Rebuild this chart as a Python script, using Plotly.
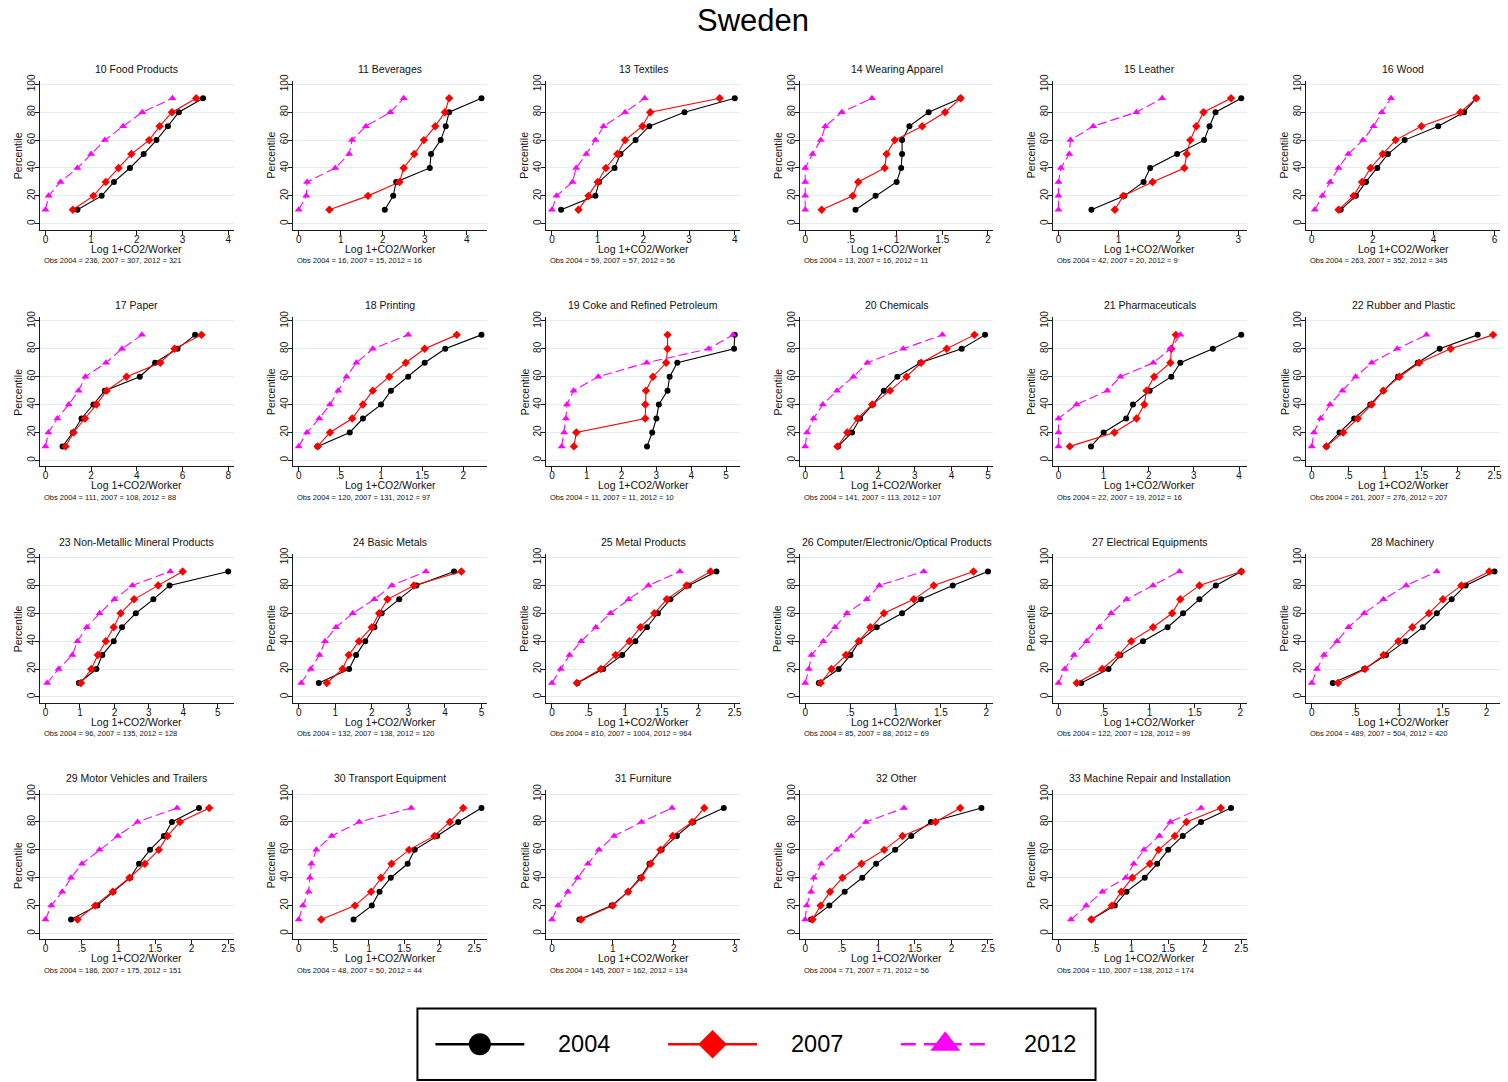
import plotly.graph_objects as go

W, H = 1508, 1082
FONT = "Arial, Liberation Sans, Helvetica, sans-serif"

percentiles = [10, 20, 30, 40, 50, 60, 70, 80, 90]

industries = [
    "10 Food Products", "11 Beverages", "13 Textiles", "14 Wearing Apparel",
    "15 Leather", "16 Wood", "17 Paper", "18 Printing",
    "19 Coke and Refined Petroleum", "20 Chemicals", "21 Pharmaceuticals",
    "22 Rubber and Plastic", "23 Non-Metallic Mineral Products", "24 Basic Metals",
    "25 Metal Products", "26 Computer/Electronic/Optical Products",
    "27 Electrical Equipments", "28 Machinery", "29 Motor Vehicles and Trailers",
    "30 Transport Equipment", "31 Furniture", "32 Other",
    "33 Machine Repair and Installation",
]

obs2004 = [236, 16, 59, 13, 42, 263, 111, 120, 11, 141, 22, 261, 96, 132, 810, 85, 122, 489, 186, 48, 145, 71, 110]
obs2007 = [307, 15, 57, 16, 20, 352, 108, 131, 11, 113, 19, 276, 135, 138, 1004, 88, 128, 504, 175, 50, 162, 71, 138]
obs2012 = [321, 16, 56, 11, 9, 345, 88, 97, 10, 107, 16, 207, 128, 120, 964, 69, 99, 420, 151, 44, 134, 56, 174]

# x-axis label spacing and last labelled value per industry
tick_step = [1, 1, 1, .5, 1, 2, 2, .5, 1, 1, 1, .5, 1, 1, .5, .5, .5, .5, .5, .5, 1, .5, .5]
tick_max = [4, 4, 4, 2, 3, 6, 8, 2, 5, 5, 4, 2.5, 5, 5, 2.5, 2, 2, 2, 2.5, 2.5, 3, 2.5, 2.5]

# Log(1 + CO2 per worker) at the 10th..90th percentiles
co2_2004 = [
    [0.70, 1.23, 1.50, 1.85, 2.15, 2.43, 2.68, 2.92, 3.45],
    [2.05, 2.25, 2.32, 3.12, 3.15, 3.38, 3.50, 3.58, 4.35],
    [0.20, 0.95, 1.03, 1.37, 1.50, 1.83, 2.13, 2.90, 4.00],
    [0.55, 0.77, 1.00, 1.05, 1.06, 1.06, 1.14, 1.35, 1.70],
    [0.55, 1.10, 1.42, 1.53, 1.98, 2.43, 2.52, 2.62, 3.05],
    [0.95, 1.45, 1.78, 2.15, 2.50, 3.05, 4.15, 5.00, 5.40],
    [0.75, 1.20, 1.58, 2.10, 2.60, 4.13, 4.80, 5.78, 6.55],
    [0.23, 0.62, 0.78, 1.00, 1.12, 1.33, 1.53, 1.78, 2.22],
    [2.73, 2.88, 3.00, 3.07, 3.32, 3.38, 3.60, 5.23, 5.25],
    [0.90, 1.28, 1.50, 1.85, 2.15, 2.52, 3.15, 4.28, 4.92],
    [0.72, 1.00, 1.50, 1.65, 2.02, 2.50, 2.70, 3.42, 4.05],
    [0.20, 0.38, 0.58, 0.80, 0.98, 1.18, 1.45, 1.75, 2.27],
    [0.97, 1.48, 1.65, 1.98, 2.22, 2.62, 3.13, 3.60, 5.30],
    [0.55, 1.38, 1.57, 1.82, 2.07, 2.27, 2.75, 3.22, 4.25],
    [0.35, 0.70, 0.96, 1.14, 1.30, 1.45, 1.62, 1.87, 2.25],
    [0.15, 0.37, 0.50, 0.60, 0.79, 1.07, 1.28, 1.63, 2.02],
    [0.25, 0.55, 0.68, 0.93, 1.20, 1.37, 1.55, 1.73, 2.01],
    [0.24, 0.60, 0.85, 1.07, 1.27, 1.43, 1.60, 1.76, 2.09],
    [0.35, 0.71, 0.93, 1.16, 1.28, 1.43, 1.62, 1.73, 2.10],
    [0.78, 1.04, 1.15, 1.31, 1.55, 1.65, 1.97, 2.27, 2.60],
    [0.45, 0.98, 1.25, 1.45, 1.60, 1.80, 2.05, 2.32, 2.82],
    [0.08, 0.33, 0.54, 0.78, 0.97, 1.23, 1.45, 1.72, 2.41],
    [0.45, 0.77, 0.93, 1.18, 1.35, 1.50, 1.70, 1.95, 2.36],
]

co2_2007 = [
    [0.60, 1.05, 1.32, 1.60, 1.88, 2.27, 2.50, 2.77, 3.30],
    [0.73, 1.65, 2.40, 2.50, 2.75, 2.98, 3.25, 3.48, 3.58],
    [0.58, 0.80, 1.00, 1.18, 1.43, 1.60, 1.98, 2.15, 3.67],
    [0.18, 0.52, 0.58, 0.87, 0.89, 0.98, 1.28, 1.53, 1.70],
    [0.94, 1.08, 1.57, 2.10, 2.14, 2.20, 2.30, 2.42, 2.88],
    [0.88, 1.37, 1.65, 1.93, 2.33, 2.75, 3.60, 4.88, 5.40],
    [0.88, 1.23, 1.73, 2.23, 2.68, 3.55, 5.03, 5.65, 6.83],
    [0.23, 0.38, 0.65, 0.78, 0.90, 1.10, 1.30, 1.53, 1.92],
    [0.63, 0.70, 2.68, 2.68, 2.70, 2.90, 3.28, 3.32, 3.32],
    [0.88, 1.15, 1.43, 1.83, 2.32, 2.77, 3.17, 3.87, 4.63],
    [0.25, 1.24, 1.73, 1.90, 1.95, 2.12, 2.48, 2.50, 2.60],
    [0.20, 0.43, 0.63, 0.82, 0.98, 1.20, 1.47, 1.90, 2.48],
    [1.03, 1.33, 1.52, 1.75, 1.98, 2.18, 2.57, 3.27, 3.98],
    [0.77, 1.20, 1.37, 1.65, 2.00, 2.20, 2.43, 3.15, 4.45],
    [0.34, 0.67, 0.87, 1.06, 1.21, 1.40, 1.57, 1.84, 2.17],
    [0.17, 0.29, 0.45, 0.59, 0.72, 0.87, 1.20, 1.42, 1.86],
    [0.20, 0.48, 0.66, 0.80, 1.04, 1.25, 1.34, 1.55, 2.01],
    [0.30, 0.61, 0.82, 0.99, 1.15, 1.34, 1.50, 1.71, 2.03],
    [0.44, 0.68, 0.92, 1.15, 1.36, 1.55, 1.67, 1.84, 2.24],
    [0.32, 0.80, 1.03, 1.17, 1.32, 1.57, 1.93, 2.15, 2.34],
    [0.48, 1.00, 1.25, 1.47, 1.62, 1.78, 1.98, 2.30, 2.50],
    [0.10, 0.21, 0.34, 0.51, 0.77, 1.08, 1.33, 1.78, 2.12],
    [0.45, 0.73, 0.86, 1.01, 1.25, 1.37, 1.59, 1.75, 2.22],
]

co2_2012 = [
    [0.00, 0.07, 0.33, 0.70, 1.00, 1.30, 1.70, 2.12, 2.78],
    [0.00, 0.18, 0.20, 0.87, 1.20, 1.27, 1.60, 2.18, 2.50],
    [0.00, 0.10, 0.45, 0.53, 0.75, 0.95, 1.13, 1.60, 2.03],
    [0.00, 0.00, 0.00, 0.00, 0.08, 0.17, 0.22, 0.40, 0.73],
    [0.00, 0.00, 0.00, 0.04, 0.18, 0.20, 0.58, 1.30, 1.73],
    [0.10, 0.35, 0.60, 0.88, 1.20, 1.68, 2.03, 2.30, 2.60],
    [0.00, 0.13, 0.52, 1.02, 1.45, 1.75, 2.65, 3.35, 4.22],
    [0.00, 0.10, 0.25, 0.38, 0.48, 0.58, 0.70, 0.90, 1.33],
    [0.28, 0.35, 0.40, 0.43, 0.62, 1.33, 2.72, 4.50, 5.20],
    [0.00, 0.05, 0.23, 0.48, 0.87, 1.32, 1.70, 2.68, 3.75],
    [0.00, 0.00, 0.00, 0.40, 1.08, 1.37, 2.10, 2.48, 2.70],
    [0.00, 0.03, 0.12, 0.25, 0.42, 0.60, 0.82, 1.17, 1.57],
    [0.05, 0.38, 0.78, 0.93, 1.20, 1.57, 2.00, 2.52, 3.62],
    [0.07, 0.33, 0.57, 0.72, 1.02, 1.48, 2.07, 2.55, 3.48],
    [0.00, 0.12, 0.24, 0.40, 0.60, 0.80, 1.05, 1.32, 1.75],
    [0.00, 0.04, 0.07, 0.20, 0.33, 0.46, 0.68, 0.82, 1.31],
    [0.00, 0.07, 0.17, 0.31, 0.45, 0.58, 0.75, 1.04, 1.33],
    [0.00, 0.06, 0.14, 0.29, 0.42, 0.60, 0.82, 1.08, 1.43],
    [0.00, 0.08, 0.23, 0.35, 0.50, 0.74, 0.99, 1.26, 1.80],
    [0.00, 0.06, 0.14, 0.16, 0.18, 0.25, 0.47, 0.86, 1.60],
    [0.00, 0.10, 0.26, 0.42, 0.59, 0.77, 1.02, 1.47, 1.97],
    [0.00, 0.02, 0.08, 0.12, 0.22, 0.43, 0.63, 0.83, 1.35],
    [0.17, 0.38, 0.60, 0.92, 1.03, 1.17, 1.38, 1.53, 1.95],
]

years = ["2004", "2007", "2012"]
series = [co2_2004, co2_2007, co2_2012]
line_colors = ["#000000", "#ff0000", "#ff00ff"]
line_dash = ["solid", "solid", "9px,4px"]
symbols = ["circle", "diamond", "triangle-up"]
marker_sizes = [6, 6.5, 7]


def stata_num(v):
    """Format like Stata axis labels: 0, .5, 1, 1.5 ..."""
    if abs(v - round(v)) < 1e-9:
        return str(int(round(v)))
    s = ("%g" % v)
    return s[1:] if s.startswith("0.") else s


fig = go.Figure()
annotations = []

NCOL = 6
COL_X0, COL_PITCH, PANEL_W = 40, 253.6, 194
ROW_Y0, ROW_PITCH, PANEL_H = 75, 237.9, 150

for i, name in enumerate(industries):
    r, c = divmod(i, NCOL)
    left = COL_X0 + COL_PITCH * c
    right = left + PANEL_W
    top = ROW_Y0 + ROW_PITCH * r
    bottom = top + PANEL_H
    n = i + 1
    xa = "x" if n == 1 else f"x{n}"
    ya = "y" if n == 1 else f"y{n}"

    for k in range(3):
        fig.add_trace(go.Scatter(
            x=series[k][i], y=percentiles, xaxis=xa, yaxis=ya,
            mode="lines+markers", name=years[k], showlegend=False,
            line=dict(color=line_colors[k], width=1.1, dash=line_dash[k]),
            marker=dict(symbol=symbols[k], size=marker_sizes[k],
                        color=line_colors[k], line=dict(width=0)),
            cliponaxis=False,
        ))

    vals = [v for s in series for v in s[i]]
    lo = min(0.0, min(vals))
    hi = max(tick_max[i], max(vals))
    pad = 0.03 * (hi - lo)
    step = tick_step[i]
    nt = int(round(tick_max[i] / step))
    tv = [round(step * j, 6) for j in range(nt + 1)]

    axis_common = dict(
        showline=True, linecolor="#1a1a1a", linewidth=1,
        ticks="outside", ticklen=4, tickwidth=1, tickcolor="#1a1a1a",
        zeroline=False,
        tickfont=dict(family=FONT, size=10, color="#111111"),
    )
    fig.layout[("xaxis" if n == 1 else f"xaxis{n}")] = dict(
        domain=[left / W, right / W], anchor=ya,
        range=[lo - pad, hi + pad], tickvals=tv,
        ticktext=[stata_num(v) for v in tv], showgrid=False,
        ticklabelstandoff=-4,
        **axis_common,
    )
    fig.layout[("yaxis" if n == 1 else f"yaxis{n}")] = dict(
        domain=[1 - bottom / H, 1 - top / H], anchor=xa,
        range=[-4.3, 102.7], tickvals=[0, 20, 40, 60, 80, 100],
        tickangle=-90, showgrid=True, gridcolor="#e3ecee", gridwidth=1,
        ticklabelstandoff=-4,
        **axis_common,
    )

    cx = (left + right) / 2
    annotations += [
        dict(text=name, x=cx / W, y=1 - (top - 12) / H, xref="paper", yref="paper",
             showarrow=False, xanchor="center", yanchor="middle",
             font=dict(family=FONT, size=10.5, color="#111111")),
        dict(text="Log 1+CO2/Worker", x=cx / W, y=1 - (bottom + 19) / H,
             xref="paper", yref="paper", showarrow=False,
             xanchor="center", yanchor="middle",
             font=dict(family=FONT, size=10.5, color="#111111")),
        dict(text="Percentile", x=(left - 22) / W, y=1 - (top + bottom) / 2 / H,
             xref="paper", yref="paper", showarrow=False, textangle=-90,
             xanchor="center", yanchor="middle",
             font=dict(family=FONT, size=10.5, color="#111111")),
        dict(text=f"Obs 2004 = {obs2004[i]}, 2007 = {obs2007[i]}, 2012 = {obs2012[i]}",
             x=(left + 2) / W, y=1 - (bottom + 31) / H, xref="paper", yref="paper",
             showarrow=False, xanchor="left", yanchor="middle",
             font=dict(family=FONT, size=7.5, color="#111111")),
    ]

# Legend key drawn on its own hidden axis, in pixel units of the key box
LX0, LX1, LY0, LY1 = 418, 1097, 1008, 1080
leg = len(industries) + 1
fig.layout[f"xaxis{leg}"] = dict(domain=[LX0 / W, LX1 / W], range=[LX0, LX1],
                                 visible=False, anchor=f"y{leg}")
fig.layout[f"yaxis{leg}"] = dict(domain=[1 - LY1 / H, 1 - LY0 / H], range=[LY1, LY0],
                                 visible=False, anchor=f"x{leg}")
key_x = [436, 669, 902]
key_len = 89
key_y = 1044
key_sizes = [22, 22, 26]
key_dash = ["solid", "solid", "15px,8px"]
for k in range(3):
    fig.add_trace(go.Scatter(
        x=[key_x[k], key_x[k] + key_len], y=[key_y, key_y],
        xaxis=f"x{leg}", yaxis=f"y{leg}", mode="lines", showlegend=False,
        line=dict(color=line_colors[k], width=2.5, dash=key_dash[k]),
        hoverinfo="skip",
    ))
    fig.add_trace(go.Scatter(
        x=[key_x[k] + key_len / 2], y=[key_y], xaxis=f"x{leg}", yaxis=f"y{leg}",
        mode="markers", showlegend=False, hoverinfo="skip",
        marker=dict(symbol=symbols[k], size=key_sizes[k], color=line_colors[k],
                    line=dict(width=0)),
    ))
    annotations.append(dict(
        text=years[k], x=key_x[k] + key_len + 32, y=key_y,
        xref=f"x{leg}", yref=f"y{leg}", showarrow=False,
        xanchor="left", yanchor="middle",
        font=dict(family=FONT, size=23.5, color="#000000"),
    ))

annotations.append(dict(
    text="Sweden", x=0.5, y=1 - 15 / H, xref="paper", yref="paper",
    showarrow=False, xanchor="center", yanchor="middle",
    font=dict(family=FONT, size=31, color="#000000"),
))

fig.update_layout(
    width=W, height=H,
    margin=dict(l=0, r=0, t=0, b=0),
    paper_bgcolor="white", plot_bgcolor="white",
    showlegend=False,
    annotations=annotations,
    shapes=[dict(type="rect", xref="paper", yref="paper",
                 x0=LX0 / W, x1=LX1 / W, y0=1 - LY1 / H, y1=1 - LY0 / H,
                 line=dict(color="#000000", width=2), fillcolor="rgba(0,0,0,0)")],
)

fig.write_html("out.html")
